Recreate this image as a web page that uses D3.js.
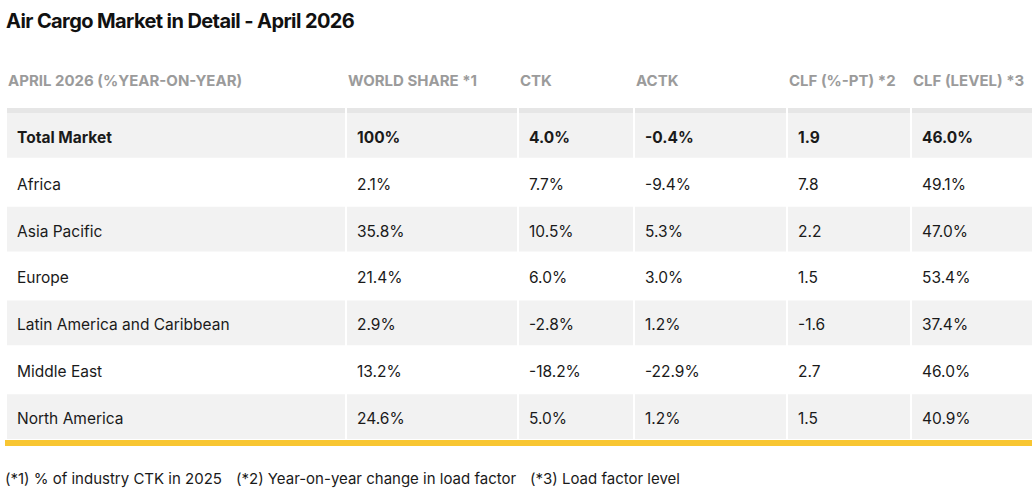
<!DOCTYPE html>
<html>
<head>
<meta charset="utf-8">
<script src="https://cdn.jsdelivr.net/npm/d3@7"></script>
<style>
  body { margin: 0; background: #fff; }
  svg { display: block; font-family: Inter, "Noto Sans", sans-serif; }
</style>
</head>
<body>
<svg id="chart" width="1032" height="490"></svg>
<script>
// table content
const title = "Air Cargo Market in Detail - April 2026";
const headers = ["APRIL 2026 (%YEAR-ON-YEAR)", "WORLD SHARE *1", "CTK", "ACTK", "CLF (%-PT) *2", "CLF (LEVEL) *3"];
const regions = ["Total Market", "Africa", "Asia Pacific", "Europe", "Latin America and Caribbean", "Middle East", "North America"];
const worldShare = ["100%", "2.1%", "35.8%", "21.4%", "2.9%", "13.2%", "24.6%"];
const ctk = ["4.0%", "7.7%", "10.5%", "6.0%", "-2.8%", "-18.2%", "5.0%"];
const actk = ["-0.4%", "-9.4%", "5.3%", "3.0%", "1.2%", "-22.9%", "1.2%"];
const clfPt = ["1.9", "7.8", "2.2", "1.5", "-1.6", "2.7", "1.5"];
const clfLevel = ["46.0%", "49.1%", "47.0%", "53.4%", "37.4%", "46.0%", "40.9%"];
const notes = ["(*1) % of industry CTK in 2025", "(*2) Year-on-year change in load factor", "(*3) Load factor level"];

const columns = [regions, worldShare, ctk, actk, clfPt, clfLevel];

// layout
const colEdges = [7, 347, 519, 635, 788, 912, 1032];
const gap = 2;

const svg = d3.select("#chart");

svg.append("text")
    .attr("x", 6).attr("y", 28)
    .attr("font-size", 20).attr("font-weight", 700)
    .attr("letter-spacing", -0.6)
    .attr("fill", "#111")
    .text(title);

// header labels
svg.selectAll(".head").data(headers)
  .enter().append("text")
    .attr("class", "head")
    .attr("x", (d, i) => colEdges[i] + 1)
    .attr("y", 86)
    .attr("font-size", 15).attr("font-weight", 700)
    .attr("fill", "#9b9b9b")
    .text(d => d);

let y = d3.scaleBand()
    .domain(d3.range(regions.length))
    .range([113, 439])
    .paddingInner(0.045);

// rows as table cells
let cells = [];
regions.forEach((r, ri) => {
    columns.forEach((col, ci) => {
        cells.push({row: ri, col: ci, value: col[ri]});
    });
});

svg.selectAll(".cell").data(cells.filter(d => d.row % 2 === 0))
  .enter().append("rect")
    .attr("class", "cell")
    .attr("x", d => colEdges[d.col])
    .attr("y", d => y(d.row))
    .attr("width", d => colEdges[d.col + 1] - colEdges[d.col] - (d.col < 5 ? gap : 0))
    .attr("height", y.bandwidth())
    .attr("fill", "#f2f2f2");

// top border band on the total row
svg.selectAll(".topband").data(cells.filter(d => d.row === 0))
  .enter().append("rect")
    .attr("class", "topband")
    .attr("x", d => colEdges[d.col])
    .attr("y", y(0) - 5)
    .attr("width", d => colEdges[d.col + 1] - colEdges[d.col] - (d.col < 5 ? gap : 0))
    .attr("height", 5)
    .attr("fill", "#e6e6e6");

svg.selectAll(".val").data(cells)
  .enter().append("text")
    .attr("class", "val")
    .attr("x", d => colEdges[d.col] + 10)
    .attr("y", d => y(d.row) + y.bandwidth() / 2 + 2)
    .attr("dy", "0.35em")
    .attr("font-size", 15.5)
    .attr("font-weight", d => d.row === 0 ? 700 : 400)
    .attr("fill", "#1a1a1a")
    .text(d => d.value);

// yellow rule under the table
svg.append("rect")
    .attr("x", 5).attr("y", 440)
    .attr("width", 1027).attr("height", 6)
    .attr("fill", "#f8c632");

// footnotes
const noteX = [5, 236, 530];
svg.selectAll(".note").data(notes)
  .enter().append("text")
    .attr("class", "note")
    .attr("x", (d, i) => noteX[i])
    .attr("y", 484)
    .attr("font-size", 15)
    .attr("fill", "#1a1a1a")
    .text(d => d);
</script>
</body>
</html>
